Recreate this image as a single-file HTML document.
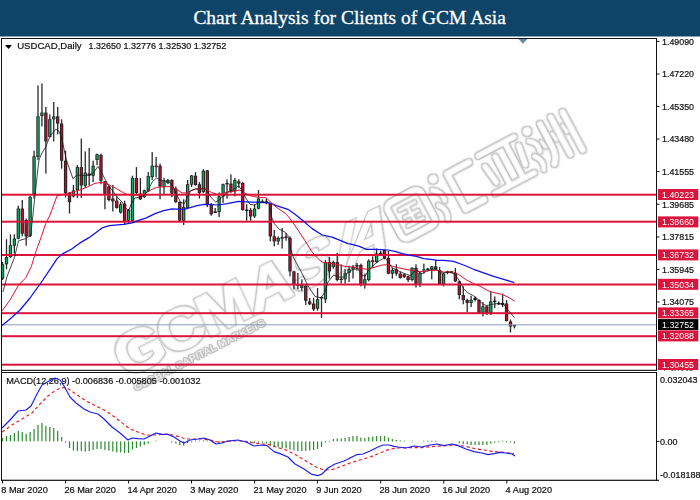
<!DOCTYPE html>
<html><head><meta charset="utf-8"><title>Chart Analysis for Clients of GCM Asia</title>
<style>html,body{margin:0;padding:0;background:#fff;overflow:hidden}body{width:700px;height:500px}svg{display:block}text{font-family:"Liberation Sans",sans-serif}.k{stroke:#111;stroke-width:.22px}.t{font-family:"Liberation Serif",serif}</style></head><body>
<svg width="700" height="500" viewBox="0 0 700 500">
<defs><filter id="ol" x="-5%" y="-5%" width="110%" height="110%" filterUnits="objectBoundingBox"><feMorphology in="SourceAlpha" operator="dilate" radius="0.9" result="d"/><feComposite in="d" in2="SourceAlpha" operator="out" result="ring"/><feGaussianBlur in="ring" stdDeviation="0.9" result="glow"/><feFlood flood-color="#bebebe"/><feComposite in2="ring" operator="in" result="cr"/><feFlood flood-color="#dedede"/><feComposite in2="glow" operator="in" result="cg"/><feMerge><feMergeNode in="cg"/><feMergeNode in="cr"/></feMerge></filter></defs>
<rect x="0" y="0" width="700" height="500" fill="#fff"/>
<rect x="0" y="0" width="700" height="36.5" fill="#0e4467"/>
<text class="t" x="193.4" y="24.4" font-size="19.3" fill="#fff" stroke="#fff" stroke-width="0.3" textLength="312.5" lengthAdjust="spacingAndGlyphs">Chart Analysis for Clients of GCM Asia</text>
<g id="wm">
<g transform="translate(129.4,376.9) rotate(-26.5)">
<text transform="translate(-4.1,0) skewX(0.0) scale(1.06,0.95)" x="0" y="0" font-size="61.0" font-weight="bold" stroke="#000" stroke-width="1.6" filter="url(#ol)">G</text>
<text transform="translate(43.4,0) skewX(0.0) scale(1.06,0.95)" x="0" y="0" font-size="61.0" font-weight="bold" stroke="#000" stroke-width="1.6" filter="url(#ol)">C</text>
<text transform="translate(87.3,0) skewX(-2.0) scale(1.06,0.95)" x="0" y="0" font-size="61.0" font-weight="bold" stroke="#000" stroke-width="1.6" filter="url(#ol)">M</text>
<text transform="translate(138.3,0) skewX(-15.0) scale(1.06,0.95)" x="0" y="0" font-size="61.0" font-weight="bold" stroke="#000" stroke-width="1.6" filter="url(#ol)">A</text>
<text transform="translate(182.4,0) skewX(-27.0) scale(1.06,0.95)" x="0" y="0" font-size="61.0" font-weight="bold" stroke="#000" stroke-width="1.6" filter="url(#ol)">S</text>
<text transform="translate(226.8,0) skewX(-38.0) scale(1.06,0.95)" x="0" y="0" font-size="61.0" font-weight="bold" stroke="#000" stroke-width="1.6" filter="url(#ol)">I</text>
<text transform="translate(240.0,0) skewX(-36.0) scale(1.06,0.95)" x="0" y="0" font-size="61.0" font-weight="bold" stroke="#000" stroke-width="1.6" filter="url(#ol)">A</text>
</g>
<g filter="url(#ol)">
<g transform="translate(136,391) rotate(-27)">
<text x="0" y="0" font-size="10" font-weight="bold" textLength="146" lengthAdjust="spacingAndGlyphs">GLOBAL CAPITAL MARKETS</text>
</g>
<g transform="translate(381,204) rotate(-28)" fill="#000" stroke="none">
<rect x="3.2" y="3.2" width="37.6" height="40" rx="6" fill="none" stroke="#000" stroke-width="6.4"/>
<rect x="12" y="12.5" width="20" height="3.2"/><rect x="13" y="21.5" width="18" height="3.2"/><rect x="12" y="30.5" width="20" height="3.2"/><rect x="20.4" y="13" width="3.2" height="20"/><rect x="26.5" y="26" width="4" height="3"/>
<circle cx="57.6" cy="2.5" r="4.6"/>
<path d="M52,12 Q60,18 58,27" fill="none" stroke="#000" stroke-width="5" stroke-linecap="round"/>
<path d="M50,28 Q57,36 52,45" fill="none" stroke="#000" stroke-width="5" stroke-linecap="round"/>
<path d="M97,4.5 L72.5,4.5 L72.5,44.5 L93,44.5" fill="none" stroke="#000" stroke-width="6.6" stroke-linecap="round" stroke-linejoin="round"/>
<path d="M108.5,3.2 L149,3.2 M105.5,44.3 L150,44.3 M123,12 L123,41 M138,5 L138,42 M109.5,16 L112,35 M149,13 L146,33" fill="none" stroke="#000" stroke-width="5.8" stroke-linecap="round"/>
<circle cx="163" cy="4.5" r="4.6"/>
<path d="M160,14 Q168,20 165,28 M158,30 Q165,38 160,46" fill="none" stroke="#000" stroke-width="5" stroke-linecap="round"/>
<path d="M178,4 L178,30 Q178,40 172,46 M190.5,3 L190.5,45 M203.5,4 L203.5,47" fill="none" stroke="#000" stroke-width="6.2" stroke-linecap="round"/>
<path d="M184,18 L185,26 M197,16 L198,24 M171,20 L172,27" fill="none" stroke="#000" stroke-width="3.5" stroke-linecap="round"/>
</g>
</g>
<rect x="1.91" y="262.0" width="1.3" height="18.0" fill="#2a2a2a"/>
<rect x="0.91" y="264.3" width="3.3" height="14.3" fill="#1c1c1c"/>
<rect x="1.81" y="265.0" width="1.5" height="12.9" fill="#0cab60"/>
<rect x="5.85" y="239.3" width="1.3" height="30.0" fill="#2a2a2a"/>
<rect x="4.85" y="257.1" width="3.3" height="7.2" fill="#1c1c1c"/>
<rect x="5.75" y="257.8" width="1.5" height="5.8" fill="#0cab60"/>
<rect x="9.79" y="234.3" width="1.3" height="23.6" fill="#2a2a2a"/>
<rect x="8.79" y="245.3" width="3.3" height="11.8" fill="#1c1c1c"/>
<rect x="9.69" y="246.0" width="1.5" height="10.4" fill="#0cab60"/>
<rect x="13.72" y="234.3" width="1.3" height="19.3" fill="#2a2a2a"/>
<rect x="12.72" y="238.6" width="3.3" height="7.1" fill="#1c1c1c"/>
<rect x="13.62" y="239.3" width="1.5" height="5.7" fill="#0cab60"/>
<rect x="17.66" y="205.7" width="1.3" height="33.6" fill="#2a2a2a"/>
<rect x="16.66" y="208.6" width="3.3" height="30.0" fill="#1c1c1c"/>
<rect x="17.56" y="209.3" width="1.5" height="28.6" fill="#0cab60"/>
<rect x="21.60" y="200.0" width="1.3" height="36.4" fill="#2a2a2a"/>
<rect x="20.60" y="208.6" width="3.3" height="25.0" fill="#1c1c1c"/>
<rect x="21.50" y="209.3" width="1.5" height="23.6" fill="#b8102f"/>
<rect x="25.54" y="218.6" width="1.3" height="27.1" fill="#2a2a2a"/>
<rect x="24.54" y="220.0" width="3.3" height="16.4" fill="#1c1c1c"/>
<rect x="25.43" y="220.7" width="1.5" height="15.0" fill="#b8102f"/>
<rect x="29.47" y="195.7" width="1.3" height="41.3" fill="#2a2a2a"/>
<rect x="28.47" y="196.9" width="3.3" height="39.2" fill="#1c1c1c"/>
<rect x="29.37" y="197.6" width="1.5" height="37.8" fill="#0cab60"/>
<rect x="33.41" y="150.7" width="1.3" height="47.9" fill="#2a2a2a"/>
<rect x="32.41" y="156.4" width="3.3" height="37.9" fill="#1c1c1c"/>
<rect x="33.31" y="157.1" width="1.5" height="36.5" fill="#0cab60"/>
<rect x="37.35" y="85.5" width="1.3" height="74.5" fill="#2a2a2a"/>
<rect x="36.35" y="116.4" width="3.3" height="40.6" fill="#1c1c1c"/>
<rect x="37.25" y="117.1" width="1.5" height="39.2" fill="#0cab60"/>
<rect x="41.29" y="83.5" width="1.3" height="42.9" fill="#2a2a2a"/>
<rect x="40.29" y="112.6" width="3.3" height="3.4" fill="#1c1c1c"/>
<rect x="41.19" y="113.3" width="1.5" height="2.0" fill="#0cab60"/>
<rect x="45.22" y="107.0" width="1.3" height="66.6" fill="#2a2a2a"/>
<rect x="44.22" y="112.6" width="3.3" height="28.8" fill="#1c1c1c"/>
<rect x="45.12" y="113.3" width="1.5" height="27.4" fill="#b8102f"/>
<rect x="49.16" y="114.3" width="1.3" height="23.1" fill="#2a2a2a"/>
<rect x="48.16" y="119.3" width="3.3" height="17.6" fill="#1c1c1c"/>
<rect x="49.06" y="120.0" width="1.5" height="16.2" fill="#0cab60"/>
<rect x="53.10" y="102.0" width="1.3" height="39.4" fill="#2a2a2a"/>
<rect x="52.10" y="116.4" width="3.3" height="2.9" fill="#1c1c1c"/>
<rect x="53.00" y="117.1" width="1.5" height="1.5" fill="#0cab60"/>
<rect x="57.04" y="107.0" width="1.3" height="27.3" fill="#2a2a2a"/>
<rect x="56.04" y="116.4" width="3.3" height="7.2" fill="#1c1c1c"/>
<rect x="56.94" y="117.1" width="1.5" height="5.8" fill="#b8102f"/>
<rect x="60.97" y="119.3" width="1.3" height="49.3" fill="#2a2a2a"/>
<rect x="59.97" y="123.6" width="3.3" height="37.1" fill="#1c1c1c"/>
<rect x="60.87" y="124.3" width="1.5" height="35.7" fill="#b8102f"/>
<rect x="64.91" y="150.7" width="1.3" height="46.7" fill="#2a2a2a"/>
<rect x="63.91" y="160.7" width="3.3" height="32.2" fill="#1c1c1c"/>
<rect x="64.81" y="161.4" width="1.5" height="30.8" fill="#b8102f"/>
<rect x="68.85" y="192.0" width="1.3" height="21.6" fill="#2a2a2a"/>
<rect x="67.85" y="193.1" width="3.3" height="9.0" fill="#1c1c1c"/>
<rect x="68.75" y="193.8" width="1.5" height="7.6" fill="#b8102f"/>
<rect x="72.78" y="185.0" width="1.3" height="12.4" fill="#2a2a2a"/>
<rect x="71.78" y="190.4" width="3.3" height="6.0" fill="#1c1c1c"/>
<rect x="72.69" y="191.1" width="1.5" height="4.6" fill="#0cab60"/>
<rect x="76.72" y="165.0" width="1.3" height="32.9" fill="#2a2a2a"/>
<rect x="75.72" y="167.1" width="3.3" height="22.9" fill="#1c1c1c"/>
<rect x="76.62" y="167.8" width="1.5" height="21.5" fill="#0cab60"/>
<rect x="80.66" y="138.6" width="1.3" height="59.3" fill="#2a2a2a"/>
<rect x="79.66" y="167.1" width="3.3" height="18.3" fill="#1c1c1c"/>
<rect x="80.56" y="167.8" width="1.5" height="16.9" fill="#b8102f"/>
<rect x="84.60" y="151.4" width="1.3" height="36.5" fill="#2a2a2a"/>
<rect x="83.60" y="172.6" width="3.3" height="13.1" fill="#1c1c1c"/>
<rect x="84.50" y="173.3" width="1.5" height="11.7" fill="#0cab60"/>
<rect x="88.53" y="147.9" width="1.3" height="37.8" fill="#2a2a2a"/>
<rect x="87.53" y="173.6" width="3.3" height="2.1" fill="#1c1c1c"/>
<rect x="88.44" y="174.3" width="1.5" height="0.7" fill="#b8102f"/>
<rect x="92.47" y="160.7" width="1.3" height="21.4" fill="#2a2a2a"/>
<rect x="91.47" y="165.7" width="3.3" height="10.0" fill="#1c1c1c"/>
<rect x="92.37" y="166.4" width="1.5" height="8.6" fill="#0cab60"/>
<rect x="96.41" y="153.6" width="1.3" height="11.4" fill="#2a2a2a"/>
<rect x="95.41" y="154.3" width="3.3" height="5.7" fill="#1c1c1c"/>
<rect x="96.31" y="155.0" width="1.5" height="4.3" fill="#0cab60"/>
<rect x="100.35" y="153.6" width="1.3" height="30.7" fill="#2a2a2a"/>
<rect x="99.35" y="155.0" width="3.3" height="25.7" fill="#1c1c1c"/>
<rect x="100.25" y="155.7" width="1.5" height="24.3" fill="#b8102f"/>
<rect x="104.28" y="181.0" width="1.3" height="28.3" fill="#2a2a2a"/>
<rect x="103.28" y="181.4" width="3.3" height="12.9" fill="#1c1c1c"/>
<rect x="104.19" y="182.1" width="1.5" height="11.5" fill="#b8102f"/>
<rect x="108.22" y="185.7" width="1.3" height="15.7" fill="#2a2a2a"/>
<rect x="107.22" y="186.4" width="3.3" height="13.6" fill="#1c1c1c"/>
<rect x="108.12" y="187.1" width="1.5" height="12.2" fill="#b8102f"/>
<rect x="112.16" y="185.0" width="1.3" height="26.4" fill="#2a2a2a"/>
<rect x="111.16" y="198.6" width="3.3" height="2.8" fill="#1c1c1c"/>
<rect x="112.06" y="199.3" width="1.5" height="1.4" fill="#b8102f"/>
<rect x="116.10" y="196.4" width="1.3" height="12.2" fill="#2a2a2a"/>
<rect x="115.10" y="200.7" width="3.3" height="7.2" fill="#1c1c1c"/>
<rect x="116.00" y="201.4" width="1.5" height="5.8" fill="#b8102f"/>
<rect x="120.03" y="202.1" width="1.3" height="11.5" fill="#2a2a2a"/>
<rect x="119.03" y="204.3" width="3.3" height="8.2" fill="#1c1c1c"/>
<rect x="119.94" y="205.0" width="1.5" height="6.8" fill="#0cab60"/>
<rect x="123.97" y="200.7" width="1.3" height="24.3" fill="#2a2a2a"/>
<rect x="122.97" y="203.6" width="3.3" height="17.8" fill="#1c1c1c"/>
<rect x="123.87" y="204.3" width="1.5" height="16.4" fill="#b8102f"/>
<rect x="127.91" y="209.0" width="1.3" height="13.9" fill="#2a2a2a"/>
<rect x="126.91" y="210.0" width="3.3" height="10.7" fill="#1c1c1c"/>
<rect x="127.81" y="210.7" width="1.5" height="9.3" fill="#0cab60"/>
<rect x="131.85" y="175.7" width="1.3" height="46.3" fill="#2a2a2a"/>
<rect x="130.85" y="177.9" width="3.3" height="42.8" fill="#1c1c1c"/>
<rect x="131.75" y="178.6" width="1.5" height="41.4" fill="#0cab60"/>
<rect x="135.78" y="167.1" width="1.3" height="27.2" fill="#2a2a2a"/>
<rect x="134.78" y="178.1" width="3.3" height="14.8" fill="#1c1c1c"/>
<rect x="135.69" y="178.8" width="1.5" height="13.4" fill="#b8102f"/>
<rect x="139.72" y="177.9" width="1.3" height="22.1" fill="#2a2a2a"/>
<rect x="138.72" y="193.6" width="3.3" height="5.7" fill="#1c1c1c"/>
<rect x="139.62" y="194.3" width="1.5" height="4.3" fill="#b8102f"/>
<rect x="143.66" y="189.6" width="1.3" height="8.3" fill="#2a2a2a"/>
<rect x="142.66" y="190.4" width="3.3" height="6.7" fill="#1c1c1c"/>
<rect x="143.56" y="191.1" width="1.5" height="5.3" fill="#0cab60"/>
<rect x="147.60" y="172.1" width="1.3" height="20.0" fill="#2a2a2a"/>
<rect x="146.60" y="176.1" width="3.3" height="15.3" fill="#1c1c1c"/>
<rect x="147.50" y="176.8" width="1.5" height="13.9" fill="#0cab60"/>
<rect x="151.53" y="152.1" width="1.3" height="27.9" fill="#2a2a2a"/>
<rect x="150.53" y="165.7" width="3.3" height="11.4" fill="#1c1c1c"/>
<rect x="151.44" y="166.4" width="1.5" height="10.0" fill="#0cab60"/>
<rect x="155.47" y="157.1" width="1.3" height="20.0" fill="#2a2a2a"/>
<rect x="154.47" y="165.7" width="3.3" height="1.4" fill="#1c1c1c"/>
<rect x="155.27" y="166.0" width="1.7" height="0.8" fill="#b8102f"/>
<rect x="159.41" y="163.6" width="1.3" height="35.7" fill="#2a2a2a"/>
<rect x="158.41" y="165.7" width="3.3" height="20.7" fill="#1c1c1c"/>
<rect x="159.31" y="166.4" width="1.5" height="19.3" fill="#b8102f"/>
<rect x="163.35" y="177.9" width="1.3" height="16.4" fill="#2a2a2a"/>
<rect x="162.35" y="180.7" width="3.3" height="6.4" fill="#1c1c1c"/>
<rect x="163.25" y="181.4" width="1.5" height="5.0" fill="#0cab60"/>
<rect x="167.28" y="179.0" width="1.3" height="5.0" fill="#2a2a2a"/>
<rect x="166.28" y="180.0" width="3.3" height="2.9" fill="#1c1c1c"/>
<rect x="167.19" y="180.7" width="1.5" height="1.5" fill="#0cab60"/>
<rect x="171.22" y="179.3" width="1.3" height="17.8" fill="#2a2a2a"/>
<rect x="170.22" y="180.0" width="3.3" height="13.6" fill="#1c1c1c"/>
<rect x="171.12" y="180.7" width="1.5" height="12.2" fill="#b8102f"/>
<rect x="175.16" y="186.4" width="1.3" height="16.5" fill="#2a2a2a"/>
<rect x="174.16" y="188.6" width="3.3" height="13.5" fill="#1c1c1c"/>
<rect x="175.06" y="189.3" width="1.5" height="12.1" fill="#b8102f"/>
<rect x="179.10" y="201.4" width="1.3" height="20.1" fill="#2a2a2a"/>
<rect x="178.10" y="202.1" width="3.3" height="18.6" fill="#1c1c1c"/>
<rect x="179.00" y="202.8" width="1.5" height="17.2" fill="#b8102f"/>
<rect x="183.03" y="199.3" width="1.3" height="25.7" fill="#2a2a2a"/>
<rect x="182.03" y="207.1" width="3.3" height="13.6" fill="#1c1c1c"/>
<rect x="182.94" y="207.8" width="1.5" height="12.2" fill="#0cab60"/>
<rect x="186.97" y="180.0" width="1.3" height="28.6" fill="#2a2a2a"/>
<rect x="185.97" y="184.3" width="3.3" height="23.6" fill="#1c1c1c"/>
<rect x="186.87" y="185.0" width="1.5" height="22.2" fill="#0cab60"/>
<rect x="190.91" y="175.0" width="1.3" height="12.1" fill="#2a2a2a"/>
<rect x="189.91" y="175.5" width="3.3" height="9.1" fill="#1c1c1c"/>
<rect x="190.81" y="176.2" width="1.5" height="7.7" fill="#0cab60"/>
<rect x="194.85" y="172.1" width="1.3" height="13.6" fill="#2a2a2a"/>
<rect x="193.85" y="175.7" width="3.3" height="9.3" fill="#1c1c1c"/>
<rect x="194.75" y="176.4" width="1.5" height="7.9" fill="#b8102f"/>
<rect x="198.78" y="182.1" width="1.3" height="16.5" fill="#2a2a2a"/>
<rect x="197.78" y="184.3" width="3.3" height="8.6" fill="#1c1c1c"/>
<rect x="198.69" y="185.0" width="1.5" height="7.2" fill="#b8102f"/>
<rect x="202.72" y="169.3" width="1.3" height="23.6" fill="#2a2a2a"/>
<rect x="201.72" y="170.7" width="3.3" height="21.4" fill="#1c1c1c"/>
<rect x="202.62" y="171.4" width="1.5" height="20.0" fill="#0cab60"/>
<rect x="206.66" y="170.0" width="1.3" height="37.1" fill="#2a2a2a"/>
<rect x="205.66" y="170.4" width="3.3" height="33.9" fill="#1c1c1c"/>
<rect x="206.56" y="171.1" width="1.5" height="32.5" fill="#b8102f"/>
<rect x="210.60" y="202.9" width="1.3" height="12.8" fill="#2a2a2a"/>
<rect x="209.60" y="204.3" width="3.3" height="10.0" fill="#1c1c1c"/>
<rect x="210.50" y="205.0" width="1.5" height="8.6" fill="#b8102f"/>
<rect x="214.53" y="207.9" width="1.3" height="5.1" fill="#2a2a2a"/>
<rect x="213.53" y="211.4" width="3.3" height="1.6" fill="#1c1c1c"/>
<rect x="218.47" y="192.4" width="1.3" height="24.7" fill="#2a2a2a"/>
<rect x="217.47" y="196.4" width="3.3" height="15.7" fill="#1c1c1c"/>
<rect x="218.37" y="197.1" width="1.5" height="14.3" fill="#0cab60"/>
<rect x="222.41" y="183.6" width="1.3" height="19.3" fill="#2a2a2a"/>
<rect x="221.41" y="184.3" width="3.3" height="12.1" fill="#1c1c1c"/>
<rect x="222.31" y="185.0" width="1.5" height="10.7" fill="#0cab60"/>
<rect x="226.35" y="179.3" width="1.3" height="19.3" fill="#2a2a2a"/>
<rect x="225.35" y="183.0" width="3.3" height="1.4" fill="#1c1c1c"/>
<rect x="230.28" y="174.3" width="1.3" height="18.6" fill="#2a2a2a"/>
<rect x="229.28" y="183.6" width="3.3" height="7.8" fill="#1c1c1c"/>
<rect x="230.19" y="184.3" width="1.5" height="6.4" fill="#b8102f"/>
<rect x="234.22" y="177.9" width="1.3" height="18.5" fill="#2a2a2a"/>
<rect x="233.22" y="180.0" width="3.3" height="11.4" fill="#1c1c1c"/>
<rect x="234.12" y="180.7" width="1.5" height="10.0" fill="#0cab60"/>
<rect x="238.16" y="179.3" width="1.3" height="8.6" fill="#2a2a2a"/>
<rect x="237.16" y="181.4" width="3.3" height="2.2" fill="#1c1c1c"/>
<rect x="238.06" y="182.1" width="1.5" height="0.8" fill="#b8102f"/>
<rect x="242.10" y="182.1" width="1.3" height="28.6" fill="#2a2a2a"/>
<rect x="241.10" y="182.9" width="3.3" height="27.1" fill="#1c1c1c"/>
<rect x="242.00" y="183.6" width="1.5" height="25.7" fill="#b8102f"/>
<rect x="246.03" y="204.3" width="1.3" height="16.4" fill="#2a2a2a"/>
<rect x="245.03" y="209.6" width="3.3" height="1.4" fill="#1c1c1c"/>
<rect x="249.97" y="207.9" width="1.3" height="12.8" fill="#2a2a2a"/>
<rect x="248.97" y="210.0" width="3.3" height="6.4" fill="#1c1c1c"/>
<rect x="249.87" y="210.7" width="1.5" height="5.0" fill="#b8102f"/>
<rect x="253.91" y="204.3" width="1.3" height="13.6" fill="#2a2a2a"/>
<rect x="252.91" y="208.6" width="3.3" height="7.8" fill="#1c1c1c"/>
<rect x="253.81" y="209.3" width="1.5" height="6.4" fill="#0cab60"/>
<rect x="257.85" y="190.0" width="1.3" height="19.3" fill="#2a2a2a"/>
<rect x="256.85" y="198.6" width="3.3" height="10.0" fill="#1c1c1c"/>
<rect x="257.75" y="199.3" width="1.5" height="8.6" fill="#0cab60"/>
<rect x="261.79" y="199.3" width="1.3" height="3.7" fill="#2a2a2a"/>
<rect x="260.79" y="201.4" width="3.3" height="1.4" fill="#1c1c1c"/>
<rect x="265.72" y="198.6" width="1.3" height="5.7" fill="#2a2a2a"/>
<rect x="264.72" y="201.4" width="3.3" height="1.5" fill="#1c1c1c"/>
<rect x="269.66" y="203.0" width="1.3" height="38.4" fill="#2a2a2a"/>
<rect x="268.66" y="203.6" width="3.3" height="32.8" fill="#1c1c1c"/>
<rect x="269.56" y="204.3" width="1.5" height="31.4" fill="#b8102f"/>
<rect x="273.60" y="230.0" width="1.3" height="16.4" fill="#2a2a2a"/>
<rect x="272.60" y="236.4" width="3.3" height="5.0" fill="#1c1c1c"/>
<rect x="273.50" y="237.1" width="1.5" height="3.6" fill="#b8102f"/>
<rect x="277.54" y="236.4" width="1.3" height="8.6" fill="#2a2a2a"/>
<rect x="276.54" y="237.9" width="3.3" height="3.5" fill="#1c1c1c"/>
<rect x="277.44" y="238.6" width="1.5" height="2.1" fill="#0cab60"/>
<rect x="281.47" y="227.9" width="1.3" height="20.7" fill="#2a2a2a"/>
<rect x="280.47" y="237.1" width="3.3" height="1.4" fill="#1c1c1c"/>
<rect x="285.41" y="232.9" width="1.3" height="7.8" fill="#2a2a2a"/>
<rect x="284.41" y="236.4" width="3.3" height="1.5" fill="#1c1c1c"/>
<rect x="289.35" y="236.4" width="1.3" height="40.0" fill="#2a2a2a"/>
<rect x="288.35" y="237.9" width="3.3" height="33.5" fill="#1c1c1c"/>
<rect x="289.25" y="238.6" width="1.5" height="32.1" fill="#b8102f"/>
<rect x="293.29" y="270.7" width="1.3" height="18.6" fill="#2a2a2a"/>
<rect x="292.29" y="271.4" width="3.3" height="13.6" fill="#1c1c1c"/>
<rect x="293.19" y="272.1" width="1.5" height="12.2" fill="#b8102f"/>
<rect x="297.22" y="272.9" width="1.3" height="16.4" fill="#2a2a2a"/>
<rect x="296.22" y="284.3" width="3.3" height="1.4" fill="#1c1c1c"/>
<rect x="301.16" y="279.3" width="1.3" height="11.4" fill="#2a2a2a"/>
<rect x="300.16" y="285.0" width="3.3" height="2.9" fill="#1c1c1c"/>
<rect x="301.06" y="285.7" width="1.5" height="1.5" fill="#0cab60"/>
<rect x="305.10" y="285.0" width="1.3" height="20.0" fill="#2a2a2a"/>
<rect x="304.10" y="285.7" width="3.3" height="15.0" fill="#1c1c1c"/>
<rect x="305.00" y="286.4" width="1.5" height="13.6" fill="#b8102f"/>
<rect x="309.04" y="297.9" width="1.3" height="7.1" fill="#2a2a2a"/>
<rect x="308.04" y="301.4" width="3.3" height="2.9" fill="#1c1c1c"/>
<rect x="308.94" y="302.1" width="1.5" height="1.5" fill="#b8102f"/>
<rect x="312.97" y="297.9" width="1.3" height="13.1" fill="#2a2a2a"/>
<rect x="311.97" y="303.6" width="3.3" height="5.7" fill="#1c1c1c"/>
<rect x="312.87" y="304.3" width="1.5" height="4.3" fill="#b8102f"/>
<rect x="316.91" y="288.1" width="1.3" height="22.6" fill="#2a2a2a"/>
<rect x="315.91" y="299.3" width="3.3" height="9.3" fill="#1c1c1c"/>
<rect x="316.81" y="300.0" width="1.5" height="7.9" fill="#0cab60"/>
<rect x="320.85" y="296.4" width="1.3" height="21.5" fill="#2a2a2a"/>
<rect x="319.85" y="297.0" width="3.3" height="1.4" fill="#1c1c1c"/>
<rect x="324.79" y="260.0" width="1.3" height="42.9" fill="#2a2a2a"/>
<rect x="323.79" y="262.1" width="3.3" height="37.2" fill="#1c1c1c"/>
<rect x="324.69" y="262.8" width="1.5" height="35.8" fill="#0cab60"/>
<rect x="328.72" y="257.1" width="1.3" height="21.5" fill="#2a2a2a"/>
<rect x="327.72" y="262.1" width="3.3" height="9.3" fill="#1c1c1c"/>
<rect x="328.62" y="262.8" width="1.5" height="7.9" fill="#b8102f"/>
<rect x="332.66" y="260.7" width="1.3" height="7.9" fill="#2a2a2a"/>
<rect x="331.66" y="262.1" width="3.3" height="5.0" fill="#1c1c1c"/>
<rect x="332.56" y="262.8" width="1.5" height="3.6" fill="#0cab60"/>
<rect x="336.60" y="252.9" width="1.3" height="28.5" fill="#2a2a2a"/>
<rect x="335.60" y="262.1" width="3.3" height="17.9" fill="#1c1c1c"/>
<rect x="336.50" y="262.8" width="1.5" height="16.5" fill="#b8102f"/>
<rect x="340.54" y="264.3" width="1.3" height="19.3" fill="#2a2a2a"/>
<rect x="339.54" y="278.6" width="3.3" height="1.4" fill="#1c1c1c"/>
<rect x="344.47" y="269.3" width="1.3" height="14.3" fill="#2a2a2a"/>
<rect x="343.47" y="272.9" width="3.3" height="6.4" fill="#1c1c1c"/>
<rect x="344.37" y="273.6" width="1.5" height="5.0" fill="#0cab60"/>
<rect x="348.41" y="265.7" width="1.3" height="16.4" fill="#2a2a2a"/>
<rect x="347.41" y="269.3" width="3.3" height="3.6" fill="#1c1c1c"/>
<rect x="348.31" y="270.0" width="1.5" height="2.2" fill="#0cab60"/>
<rect x="352.35" y="265.0" width="1.3" height="13.6" fill="#2a2a2a"/>
<rect x="351.35" y="267.1" width="3.3" height="2.2" fill="#1c1c1c"/>
<rect x="352.25" y="267.8" width="1.5" height="0.8" fill="#0cab60"/>
<rect x="356.29" y="262.9" width="1.3" height="7.8" fill="#2a2a2a"/>
<rect x="355.29" y="265.0" width="3.3" height="1.4" fill="#1c1c1c"/>
<rect x="360.22" y="263.6" width="1.3" height="22.8" fill="#2a2a2a"/>
<rect x="359.22" y="265.0" width="3.3" height="20.0" fill="#1c1c1c"/>
<rect x="360.12" y="265.7" width="1.5" height="18.6" fill="#b8102f"/>
<rect x="364.16" y="273.6" width="1.3" height="15.0" fill="#2a2a2a"/>
<rect x="363.16" y="279.3" width="3.3" height="5.7" fill="#1c1c1c"/>
<rect x="364.06" y="280.0" width="1.5" height="4.3" fill="#0cab60"/>
<rect x="368.10" y="259.3" width="1.3" height="22.1" fill="#2a2a2a"/>
<rect x="367.10" y="260.7" width="3.3" height="19.3" fill="#1c1c1c"/>
<rect x="368.00" y="261.4" width="1.5" height="17.9" fill="#0cab60"/>
<rect x="372.04" y="256.4" width="1.3" height="11.5" fill="#2a2a2a"/>
<rect x="371.04" y="260.4" width="3.3" height="1.7" fill="#1c1c1c"/>
<rect x="371.83" y="260.7" width="1.7" height="1.1" fill="#b8102f"/>
<rect x="375.97" y="248.6" width="1.3" height="14.3" fill="#2a2a2a"/>
<rect x="374.97" y="253.6" width="3.3" height="8.5" fill="#1c1c1c"/>
<rect x="375.87" y="254.3" width="1.5" height="7.1" fill="#0cab60"/>
<rect x="379.91" y="250.7" width="1.3" height="4.3" fill="#2a2a2a"/>
<rect x="378.91" y="252.9" width="3.3" height="1.4" fill="#1c1c1c"/>
<rect x="383.85" y="249.3" width="1.3" height="10.0" fill="#2a2a2a"/>
<rect x="382.85" y="250.0" width="3.3" height="7.9" fill="#1c1c1c"/>
<rect x="383.75" y="250.7" width="1.5" height="6.5" fill="#b8102f"/>
<rect x="387.79" y="250.7" width="1.3" height="23.6" fill="#2a2a2a"/>
<rect x="386.79" y="257.9" width="3.3" height="15.7" fill="#1c1c1c"/>
<rect x="387.69" y="258.6" width="1.5" height="14.3" fill="#b8102f"/>
<rect x="391.72" y="267.9" width="1.3" height="10.7" fill="#2a2a2a"/>
<rect x="390.72" y="270.0" width="3.3" height="3.6" fill="#1c1c1c"/>
<rect x="391.62" y="270.7" width="1.5" height="2.2" fill="#0cab60"/>
<rect x="395.66" y="264.3" width="1.3" height="11.4" fill="#2a2a2a"/>
<rect x="394.66" y="269.3" width="3.3" height="4.3" fill="#1c1c1c"/>
<rect x="395.56" y="270.0" width="1.5" height="2.9" fill="#b8102f"/>
<rect x="399.60" y="271.4" width="1.3" height="7.2" fill="#2a2a2a"/>
<rect x="398.60" y="273.6" width="3.3" height="4.3" fill="#1c1c1c"/>
<rect x="399.50" y="274.3" width="1.5" height="2.9" fill="#b8102f"/>
<rect x="403.54" y="273.6" width="1.3" height="4.3" fill="#2a2a2a"/>
<rect x="402.54" y="274.3" width="3.3" height="2.8" fill="#1c1c1c"/>
<rect x="403.44" y="275.0" width="1.5" height="1.4" fill="#b8102f"/>
<rect x="407.47" y="275.7" width="1.3" height="6.4" fill="#2a2a2a"/>
<rect x="406.47" y="276.4" width="3.3" height="3.6" fill="#1c1c1c"/>
<rect x="407.37" y="277.1" width="1.5" height="2.2" fill="#b8102f"/>
<rect x="411.41" y="267.1" width="1.3" height="14.3" fill="#2a2a2a"/>
<rect x="410.41" y="267.9" width="3.3" height="12.1" fill="#1c1c1c"/>
<rect x="411.31" y="268.6" width="1.5" height="10.7" fill="#0cab60"/>
<rect x="415.35" y="264.3" width="1.3" height="23.3" fill="#2a2a2a"/>
<rect x="414.35" y="267.9" width="3.3" height="16.4" fill="#1c1c1c"/>
<rect x="415.25" y="268.6" width="1.5" height="15.0" fill="#b8102f"/>
<rect x="419.29" y="272.1" width="1.3" height="15.0" fill="#2a2a2a"/>
<rect x="418.29" y="272.9" width="3.3" height="10.7" fill="#1c1c1c"/>
<rect x="419.19" y="273.6" width="1.5" height="9.3" fill="#0cab60"/>
<rect x="423.22" y="263.6" width="1.3" height="10.0" fill="#2a2a2a"/>
<rect x="422.22" y="269.3" width="3.3" height="1.4" fill="#1c1c1c"/>
<rect x="423.02" y="269.6" width="1.7" height="0.8" fill="#0cab60"/>
<rect x="427.16" y="267.9" width="1.3" height="2.1" fill="#2a2a2a"/>
<rect x="426.16" y="268.6" width="3.3" height="1.4" fill="#1c1c1c"/>
<rect x="431.10" y="266.0" width="1.3" height="13.3" fill="#2a2a2a"/>
<rect x="430.10" y="266.4" width="3.3" height="2.9" fill="#1c1c1c"/>
<rect x="431.00" y="267.1" width="1.5" height="1.5" fill="#0cab60"/>
<rect x="435.04" y="260.0" width="1.3" height="9.5" fill="#2a2a2a"/>
<rect x="434.04" y="266.4" width="3.3" height="2.6" fill="#1c1c1c"/>
<rect x="434.94" y="267.1" width="1.5" height="1.2" fill="#b8102f"/>
<rect x="438.97" y="267.1" width="1.3" height="17.9" fill="#2a2a2a"/>
<rect x="437.97" y="270.0" width="3.3" height="14.3" fill="#1c1c1c"/>
<rect x="438.87" y="270.7" width="1.5" height="12.9" fill="#b8102f"/>
<rect x="442.91" y="273.0" width="1.3" height="13.4" fill="#2a2a2a"/>
<rect x="441.91" y="273.6" width="3.3" height="10.7" fill="#1c1c1c"/>
<rect x="442.81" y="274.3" width="1.5" height="9.3" fill="#0cab60"/>
<rect x="446.85" y="270.7" width="1.3" height="3.6" fill="#2a2a2a"/>
<rect x="445.85" y="271.4" width="3.3" height="1.5" fill="#1c1c1c"/>
<rect x="450.79" y="271.0" width="1.3" height="2.0" fill="#2a2a2a"/>
<rect x="449.79" y="271.4" width="3.3" height="1.4" fill="#1c1c1c"/>
<rect x="454.72" y="267.9" width="1.3" height="14.2" fill="#2a2a2a"/>
<rect x="453.72" y="272.9" width="3.3" height="8.5" fill="#1c1c1c"/>
<rect x="454.62" y="273.6" width="1.5" height="7.1" fill="#b8102f"/>
<rect x="458.66" y="280.7" width="1.3" height="18.6" fill="#2a2a2a"/>
<rect x="457.66" y="281.4" width="3.3" height="13.6" fill="#1c1c1c"/>
<rect x="458.56" y="282.1" width="1.5" height="12.2" fill="#b8102f"/>
<rect x="462.60" y="286.4" width="1.3" height="17.9" fill="#2a2a2a"/>
<rect x="461.60" y="295.0" width="3.3" height="5.0" fill="#1c1c1c"/>
<rect x="462.50" y="295.7" width="1.5" height="3.6" fill="#b8102f"/>
<rect x="466.54" y="298.6" width="1.3" height="13.5" fill="#2a2a2a"/>
<rect x="465.54" y="300.0" width="3.3" height="2.9" fill="#1c1c1c"/>
<rect x="466.44" y="300.7" width="1.5" height="1.5" fill="#b8102f"/>
<rect x="470.47" y="295.7" width="1.3" height="11.4" fill="#2a2a2a"/>
<rect x="469.47" y="300.0" width="3.3" height="2.9" fill="#1c1c1c"/>
<rect x="470.37" y="300.7" width="1.5" height="1.5" fill="#0cab60"/>
<rect x="474.41" y="296.4" width="1.3" height="5.0" fill="#2a2a2a"/>
<rect x="473.41" y="297.9" width="3.3" height="2.1" fill="#1c1c1c"/>
<rect x="478.35" y="299.3" width="1.3" height="14.3" fill="#2a2a2a"/>
<rect x="477.35" y="300.0" width="3.3" height="12.9" fill="#1c1c1c"/>
<rect x="478.25" y="300.7" width="1.5" height="11.5" fill="#b8102f"/>
<rect x="482.29" y="302.1" width="1.3" height="14.3" fill="#2a2a2a"/>
<rect x="481.29" y="306.4" width="3.3" height="6.5" fill="#1c1c1c"/>
<rect x="482.19" y="307.1" width="1.5" height="5.1" fill="#0cab60"/>
<rect x="486.22" y="305.7" width="1.3" height="9.3" fill="#2a2a2a"/>
<rect x="485.22" y="306.4" width="3.3" height="6.5" fill="#1c1c1c"/>
<rect x="486.12" y="307.1" width="1.5" height="5.1" fill="#b8102f"/>
<rect x="490.16" y="292.1" width="1.3" height="22.9" fill="#2a2a2a"/>
<rect x="489.16" y="301.4" width="3.3" height="11.5" fill="#1c1c1c"/>
<rect x="490.06" y="302.1" width="1.5" height="10.1" fill="#0cab60"/>
<rect x="494.10" y="296.4" width="1.3" height="11.5" fill="#2a2a2a"/>
<rect x="493.10" y="300.7" width="3.3" height="1.4" fill="#1c1c1c"/>
<rect x="498.04" y="301.4" width="1.3" height="3.6" fill="#2a2a2a"/>
<rect x="497.04" y="302.9" width="3.3" height="1.4" fill="#1c1c1c"/>
<rect x="501.97" y="293.6" width="1.3" height="13.5" fill="#2a2a2a"/>
<rect x="500.97" y="302.9" width="3.3" height="2.1" fill="#1c1c1c"/>
<rect x="505.91" y="300.0" width="1.3" height="21.5" fill="#2a2a2a"/>
<rect x="504.91" y="303.5" width="3.3" height="17.5" fill="#1c1c1c"/>
<rect x="505.81" y="304.2" width="1.5" height="16.1" fill="#b8102f"/>
<rect x="509.85" y="319.5" width="1.3" height="13.0" fill="#2a2a2a"/>
<rect x="508.85" y="321.5" width="3.3" height="5.0" fill="#1c1c1c"/>
<rect x="509.75" y="322.2" width="1.5" height="3.6" fill="#b8102f"/>
<rect x="513.78" y="324.8" width="1.3" height="3.7" fill="#2a2a2a"/>
<rect x="512.78" y="325.0" width="3.3" height="1.4" fill="#1c1c1c"/>
<rect x="513.58" y="325.3" width="1.7" height="0.8" fill="#0cab60"/>
<rect x="2" y="193.7" width="654" height="2" fill="#dc143c"/>
<rect x="2" y="220.7" width="654" height="2" fill="#dc143c"/>
<rect x="2" y="254.0" width="654" height="2" fill="#dc143c"/>
<rect x="2" y="283.5" width="654" height="2" fill="#dc143c"/>
<rect x="2" y="312.2" width="654" height="2" fill="#dc143c"/>
<rect x="2" y="335.2" width="654" height="2" fill="#dc143c"/>
<rect x="2" y="363.7" width="654" height="2" fill="#dc143c"/>
<rect x="2" y="324.3" width="654" height="1" fill="#8a9db3"/>
<polyline points="2.0,325.6 10.0,319.0 20.0,310.0 30.0,298.0 39.3,285.0 42.9,280.0 50.0,269.3 57.1,258.6 62.9,253.6 71.4,249.3 80.0,242.9 88.6,237.9 95.0,233.3 102.1,227.9 109.3,225.7 123.6,224.3 132.1,222.9 137.9,220.7 146.4,217.9 155.0,213.6 163.6,210.7 172.1,208.9 183.6,209.3 189.3,207.9 197.1,205.7 204.3,204.3 218.6,205.0 227.1,203.6 238.6,201.4 247.1,201.9 258.6,202.4 269.3,202.9 276.4,205.7 287.9,209.3 295.0,214.3 302.1,220.0 312.1,228.6 322.1,235.0 332.1,237.1 340.7,240.7 347.9,243.6 352.1,244.3 359.3,246.4 366.4,249.3 376.4,249.3 387.9,250.0 395.0,251.4 402.1,253.6 409.0,255.2 416.4,256.4 423.6,258.6 430.7,259.3 437.9,260.4 443.6,260.3 453.6,261.4 463.6,265.0 473.6,269.3 483.6,272.9 493.6,276.4 503.6,279.3 514.3,282.6" fill="none" stroke="#1010f0" stroke-width="1.25" stroke-linejoin="round"/>
<polyline points="2.0,311.0 10.0,300.0 18.6,285.0 25.7,277.9 31.4,266.4 35.7,252.1 41.4,236.4 45.7,223.6 50.0,215.0 57.1,195.7 68.6,193.1 80.0,190.0 88.6,186.4 95.0,183.3 102.1,182.4 109.3,185.0 116.4,188.6 123.6,192.9 127.9,194.7 136.0,195.2 143.6,194.3 149.3,190.7 156.4,187.4 163.6,186.7 170.7,186.7 176.4,189.3 182.1,192.9 186.4,192.9 192.1,190.4 195.7,189.3 204.3,188.6 211.4,192.4 218.6,194.7 225.7,192.4 232.9,191.4 239.3,190.0 244.3,192.9 250.0,195.7 257.1,197.1 266.4,197.9 271.4,202.9 276.4,207.1 286.4,214.3 292.1,221.4 297.9,230.0 305.0,240.7 312.1,252.1 317.9,258.6 322.1,262.1 332.1,263.6 340.7,265.3 345.0,266.4 353.6,267.1 360.7,268.6 367.9,269.3 375.0,267.1 382.1,265.0 387.9,264.7 395.0,267.1 402.1,268.6 409.3,270.0 416.4,271.4 423.6,271.4 430.7,270.4 437.9,270.4 443.6,272.1 453.6,272.1 459.3,275.0 466.4,280.0 473.6,283.6 480.7,286.4 487.9,290.7 495.0,292.9 502.1,294.3 507.9,297.1 514.5,301.0" fill="none" stroke="#e01030" stroke-width="1" stroke-linejoin="round"/>
<polyline points="2.9,292.0 7.1,276.4 14.3,257.9 18.6,240.7 25.7,238.6 30.7,235.0 32.9,215.0 35.0,196.0 37.5,172.0 39.0,160.0 41.4,154.0 45.7,147.0 50.0,136.0 55.7,129.3 58.6,130.7 61.4,137.0 66.4,160.0 72.9,178.6 77.0,175.0 85.7,175.7 92.9,173.6 97.9,166.4 101.4,172.1 105.0,179.3 109.3,186.4 113.6,192.1 117.9,197.9 122.1,202.1 125.7,207.9 128.6,210.7 132.1,202.1 135.0,197.9 140.7,197.1 145.0,195.0 149.3,187.9 152.1,182.1 156.4,177.9 160.0,180.0 163.6,180.7 167.9,181.4 172.1,185.0 176.4,194.3 180.7,202.1 184.3,203.6 187.1,197.9 190.7,190.7 195.7,188.6 200.0,189.3 204.3,187.9 207.9,192.1 211.4,197.9 215.7,202.1 219.3,200.0 222.9,196.4 227.1,192.4 232.9,190.0 238.6,185.7 242.1,190.7 245.7,197.9 250.0,204.3 255.0,205.0 258.6,202.1 267.1,202.1 269.3,203.6 271.4,216.4 274.3,223.6 279.3,229.3 285.0,232.1 288.6,236.4 290.7,249.3 293.6,257.9 300.7,270.7 307.9,285.7 315.0,296.4 320.7,297.9 325.0,292.1 327.9,282.1 333.6,275.0 337.9,277.1 343.6,277.1 349.3,271.4 353.6,269.3 357.9,268.6 361.4,275.0 365.0,276.4 368.6,270.0 373.6,265.0 379.3,260.7 385.0,257.9 387.9,261.4 392.1,267.9 399.3,271.4 406.4,274.3 410.7,275.7 413.6,272.1 416.4,270.7 422.1,273.6 426.4,271.4 432.1,269.3 437.1,269.3 440.7,272.9 443.6,272.9 449.3,272.1 455.0,274.3 459.3,280.7 463.6,288.6 467.9,292.9 473.6,295.7 477.9,299.3 482.1,303.6 486.4,305.7 492.1,304.3 497.9,303.6 503.6,304.0 507.9,310.0 514.5,317.8" fill="none" stroke="#1a1a1a" stroke-width="0.8" stroke-linejoin="round"/>
<text class="k" x="6.2" y="384.2" font-size="9.5" fill="#111" lengthAdjust="spacingAndGlyphs" textLength="194.3">MACD(12,26,9) -0.006836 -0.005805 -0.001032</text>
<rect x="1.96" y="438.0" width="1.2" height="3.4" fill="#2a8a2a"/>
<rect x="5.90" y="436.0" width="1.2" height="5.4" fill="#2a8a2a"/>
<rect x="9.84" y="435.0" width="1.2" height="6.4" fill="#2a8a2a"/>
<rect x="13.77" y="433.0" width="1.2" height="8.4" fill="#2a8a2a"/>
<rect x="17.71" y="431.0" width="1.2" height="10.4" fill="#2a8a2a"/>
<rect x="21.65" y="432.0" width="1.2" height="9.4" fill="#2a8a2a"/>
<rect x="25.58" y="434.0" width="1.2" height="7.4" fill="#2a8a2a"/>
<rect x="29.52" y="432.0" width="1.2" height="9.4" fill="#2a8a2a"/>
<rect x="33.46" y="429.0" width="1.2" height="12.4" fill="#2a8a2a"/>
<rect x="37.40" y="425.0" width="1.2" height="16.4" fill="#2a8a2a"/>
<rect x="41.34" y="423.0" width="1.2" height="18.4" fill="#2a8a2a"/>
<rect x="45.27" y="426.0" width="1.2" height="15.4" fill="#2a8a2a"/>
<rect x="49.21" y="427.0" width="1.2" height="14.4" fill="#2a8a2a"/>
<rect x="53.15" y="428.0" width="1.2" height="13.4" fill="#2a8a2a"/>
<rect x="57.09" y="431.0" width="1.2" height="10.4" fill="#2a8a2a"/>
<rect x="61.02" y="437.0" width="1.2" height="4.4" fill="#2a8a2a"/>
<rect x="64.96" y="441.4" width="1.2" height="1.1" fill="#2a8a2a"/>
<rect x="68.90" y="441.4" width="1.2" height="6.6" fill="#2a8a2a"/>
<rect x="72.84" y="441.4" width="1.2" height="9.0" fill="#2a8a2a"/>
<rect x="76.77" y="441.4" width="1.2" height="9.6" fill="#2a8a2a"/>
<rect x="80.71" y="441.4" width="1.2" height="9.6" fill="#2a8a2a"/>
<rect x="84.65" y="441.4" width="1.2" height="10.2" fill="#2a8a2a"/>
<rect x="88.59" y="441.4" width="1.2" height="9.6" fill="#2a8a2a"/>
<rect x="92.52" y="441.4" width="1.2" height="8.6" fill="#2a8a2a"/>
<rect x="96.46" y="441.4" width="1.2" height="7.6" fill="#2a8a2a"/>
<rect x="100.40" y="441.4" width="1.2" height="7.6" fill="#2a8a2a"/>
<rect x="104.34" y="441.4" width="1.2" height="8.6" fill="#2a8a2a"/>
<rect x="108.27" y="441.4" width="1.2" height="9.2" fill="#2a8a2a"/>
<rect x="112.21" y="441.4" width="1.2" height="10.2" fill="#2a8a2a"/>
<rect x="116.15" y="441.4" width="1.2" height="11.0" fill="#2a8a2a"/>
<rect x="120.09" y="441.4" width="1.2" height="11.0" fill="#2a8a2a"/>
<rect x="124.02" y="441.4" width="1.2" height="11.6" fill="#2a8a2a"/>
<rect x="127.96" y="441.4" width="1.2" height="11.6" fill="#2a8a2a"/>
<rect x="131.90" y="441.4" width="1.2" height="8.1" fill="#2a8a2a"/>
<rect x="135.84" y="441.4" width="1.2" height="6.6" fill="#2a8a2a"/>
<rect x="139.77" y="441.4" width="1.2" height="5.2" fill="#2a8a2a"/>
<rect x="143.71" y="441.4" width="1.2" height="3.6" fill="#2a8a2a"/>
<rect x="147.65" y="441.4" width="1.2" height="2.2" fill="#2a8a2a"/>
<rect x="155.52" y="440.6" width="1.2" height="0.8" fill="#2a8a2a"/>
<rect x="171.27" y="441.4" width="1.2" height="1.2" fill="#2a8a2a"/>
<rect x="175.21" y="441.4" width="1.2" height="2.0" fill="#2a8a2a"/>
<rect x="179.15" y="441.4" width="1.2" height="3.6" fill="#2a8a2a"/>
<rect x="183.09" y="441.4" width="1.2" height="4.2" fill="#2a8a2a"/>
<rect x="187.02" y="441.4" width="1.2" height="1.6" fill="#2a8a2a"/>
<rect x="190.96" y="441.4" width="1.2" height="1.0" fill="#2a8a2a"/>
<rect x="194.90" y="440.6" width="1.2" height="0.8" fill="#2a8a2a"/>
<rect x="198.84" y="440.6" width="1.2" height="0.8" fill="#2a8a2a"/>
<rect x="202.77" y="440.6" width="1.2" height="0.8" fill="#2a8a2a"/>
<rect x="206.71" y="440.6" width="1.2" height="0.8" fill="#2a8a2a"/>
<rect x="214.59" y="441.4" width="1.2" height="1.0" fill="#2a8a2a"/>
<rect x="218.52" y="441.4" width="1.2" height="2.6" fill="#2a8a2a"/>
<rect x="222.46" y="441.4" width="1.2" height="1.6" fill="#2a8a2a"/>
<rect x="226.40" y="440.6" width="1.2" height="0.8" fill="#2a8a2a"/>
<rect x="230.34" y="440.6" width="1.2" height="0.8" fill="#2a8a2a"/>
<rect x="234.27" y="440.6" width="1.2" height="0.8" fill="#2a8a2a"/>
<rect x="246.09" y="441.4" width="1.2" height="1.0" fill="#2a8a2a"/>
<rect x="250.02" y="441.4" width="1.2" height="1.4" fill="#2a8a2a"/>
<rect x="253.96" y="441.4" width="1.2" height="1.6" fill="#2a8a2a"/>
<rect x="257.90" y="441.4" width="1.2" height="1.2" fill="#2a8a2a"/>
<rect x="261.83" y="441.4" width="1.2" height="1.2" fill="#2a8a2a"/>
<rect x="265.77" y="441.4" width="1.2" height="2.0" fill="#2a8a2a"/>
<rect x="269.71" y="441.4" width="1.2" height="4.2" fill="#2a8a2a"/>
<rect x="273.65" y="441.4" width="1.2" height="5.2" fill="#2a8a2a"/>
<rect x="277.58" y="441.4" width="1.2" height="6.0" fill="#2a8a2a"/>
<rect x="281.52" y="441.4" width="1.2" height="6.6" fill="#2a8a2a"/>
<rect x="285.46" y="441.4" width="1.2" height="7.0" fill="#2a8a2a"/>
<rect x="289.40" y="441.4" width="1.2" height="8.2" fill="#2a8a2a"/>
<rect x="293.33" y="441.4" width="1.2" height="9.0" fill="#2a8a2a"/>
<rect x="297.27" y="441.4" width="1.2" height="9.6" fill="#2a8a2a"/>
<rect x="301.21" y="441.4" width="1.2" height="9.6" fill="#2a8a2a"/>
<rect x="305.15" y="441.4" width="1.2" height="9.6" fill="#2a8a2a"/>
<rect x="309.08" y="441.4" width="1.2" height="9.0" fill="#2a8a2a"/>
<rect x="313.02" y="441.4" width="1.2" height="8.6" fill="#2a8a2a"/>
<rect x="316.96" y="441.4" width="1.2" height="7.6" fill="#2a8a2a"/>
<rect x="320.90" y="441.4" width="1.2" height="5.6" fill="#2a8a2a"/>
<rect x="324.83" y="441.4" width="1.2" height="1.0" fill="#2a8a2a"/>
<rect x="328.77" y="440.8" width="1.2" height="0.8" fill="#2a8a2a"/>
<rect x="332.71" y="439.0" width="1.2" height="2.4" fill="#2a8a2a"/>
<rect x="336.65" y="438.4" width="1.2" height="3.0" fill="#2a8a2a"/>
<rect x="340.58" y="438.4" width="1.2" height="3.0" fill="#2a8a2a"/>
<rect x="344.52" y="438.0" width="1.2" height="3.4" fill="#2a8a2a"/>
<rect x="348.46" y="437.0" width="1.2" height="4.4" fill="#2a8a2a"/>
<rect x="352.40" y="436.0" width="1.2" height="5.4" fill="#2a8a2a"/>
<rect x="356.33" y="436.0" width="1.2" height="5.4" fill="#2a8a2a"/>
<rect x="360.27" y="437.6" width="1.2" height="3.8" fill="#2a8a2a"/>
<rect x="364.21" y="438.0" width="1.2" height="3.4" fill="#2a8a2a"/>
<rect x="368.15" y="437.0" width="1.2" height="4.4" fill="#2a8a2a"/>
<rect x="372.08" y="436.6" width="1.2" height="4.8" fill="#2a8a2a"/>
<rect x="376.02" y="436.0" width="1.2" height="5.4" fill="#2a8a2a"/>
<rect x="379.96" y="436.0" width="1.2" height="5.4" fill="#2a8a2a"/>
<rect x="383.90" y="436.0" width="1.2" height="5.4" fill="#2a8a2a"/>
<rect x="387.83" y="437.6" width="1.2" height="3.8" fill="#2a8a2a"/>
<rect x="391.77" y="439.0" width="1.2" height="2.4" fill="#2a8a2a"/>
<rect x="395.71" y="440.0" width="1.2" height="1.4" fill="#2a8a2a"/>
<rect x="399.65" y="440.4" width="1.2" height="1.0" fill="#2a8a2a"/>
<rect x="403.58" y="440.7" width="1.2" height="0.8" fill="#2a8a2a"/>
<rect x="411.46" y="440.7" width="1.2" height="0.8" fill="#2a8a2a"/>
<rect x="423.27" y="440.7" width="1.2" height="0.8" fill="#2a8a2a"/>
<rect x="427.21" y="440.7" width="1.2" height="0.8" fill="#2a8a2a"/>
<rect x="431.15" y="440.7" width="1.2" height="0.8" fill="#2a8a2a"/>
<rect x="435.08" y="440.7" width="1.2" height="0.8" fill="#2a8a2a"/>
<rect x="458.71" y="441.4" width="1.2" height="1.6" fill="#2a8a2a"/>
<rect x="462.65" y="441.4" width="1.2" height="2.6" fill="#2a8a2a"/>
<rect x="466.58" y="441.4" width="1.2" height="3.0" fill="#2a8a2a"/>
<rect x="470.52" y="441.4" width="1.2" height="3.6" fill="#2a8a2a"/>
<rect x="474.46" y="441.4" width="1.2" height="3.6" fill="#2a8a2a"/>
<rect x="478.40" y="441.4" width="1.2" height="3.6" fill="#2a8a2a"/>
<rect x="482.33" y="441.4" width="1.2" height="3.6" fill="#2a8a2a"/>
<rect x="486.27" y="441.4" width="1.2" height="3.6" fill="#2a8a2a"/>
<rect x="490.21" y="441.4" width="1.2" height="2.2" fill="#2a8a2a"/>
<rect x="494.15" y="441.4" width="1.2" height="1.2" fill="#2a8a2a"/>
<rect x="498.08" y="441.4" width="1.2" height="0.8" fill="#2a8a2a"/>
<rect x="502.02" y="440.7" width="1.2" height="0.8" fill="#2a8a2a"/>
<rect x="505.96" y="441.4" width="1.2" height="0.8" fill="#2a8a2a"/>
<rect x="509.90" y="441.4" width="1.2" height="1.2" fill="#2a8a2a"/>
<rect x="513.83" y="441.4" width="1.2" height="2.0" fill="#2a8a2a"/>
<polyline points="2.0,432.0 12.0,425.0 22.0,419.0 32.0,413.0 40.0,404.0 48.0,396.0 56.0,390.0 62.0,387.6 67.0,388.0 76.0,394.0 86.0,401.0 96.0,406.0 106.0,411.0 116.0,418.0 126.0,426.0 130.0,429.0 138.0,432.0 146.0,435.0 154.0,435.0 162.0,434.4 170.0,434.4 178.0,436.4 186.0,439.0 194.0,439.0 202.0,439.0 210.0,440.0 218.0,442.0 226.0,441.6 238.0,440.6 246.0,441.4 254.0,443.0 262.0,444.0 268.0,444.4 276.0,447.0 286.0,450.0 296.0,455.0 306.0,461.0 316.0,467.0 324.0,470.0 332.0,469.6 340.0,467.0 350.0,463.0 360.0,460.0 370.0,457.0 380.0,453.0 390.0,449.0 398.0,448.0 410.0,447.6 422.0,447.6 434.0,446.4 446.0,445.6 456.0,445.0 464.0,446.0 474.0,448.4 484.0,450.0 494.0,451.6 504.0,452.4 514.0,453.6" fill="none" stroke="#e8202a" stroke-width="1.2" stroke-dasharray="3.2,2.6" stroke-linejoin="round"/>
<polyline points="2.0,428.0 10.0,420.0 18.0,411.0 26.0,410.0 31.0,406.0 37.0,394.0 42.0,385.0 49.0,381.0 55.0,378.0 60.0,380.0 64.0,386.0 70.0,397.0 76.0,403.0 84.0,409.0 90.0,412.0 98.0,414.0 104.0,419.0 112.0,427.0 120.0,433.0 128.0,440.0 132.0,438.0 138.0,438.6 144.0,439.0 150.0,436.0 156.0,433.0 162.0,434.4 168.0,434.4 174.0,437.0 180.0,441.0 184.0,443.0 190.0,440.0 198.0,439.0 204.0,438.0 210.0,440.0 216.0,444.0 222.0,443.0 228.0,441.0 238.0,440.0 246.0,442.0 254.0,446.0 262.0,445.0 267.0,445.6 274.0,451.6 280.0,453.6 288.0,457.0 295.0,464.0 304.0,469.0 312.0,474.4 318.0,475.6 322.0,474.0 328.0,468.0 335.0,464.0 344.0,461.0 350.0,458.0 357.0,454.6 363.0,454.0 370.0,451.0 378.0,447.0 383.0,445.0 389.0,445.0 394.0,446.4 398.0,447.0 406.0,448.0 414.0,446.0 422.0,447.0 430.0,445.0 437.0,444.0 444.0,445.6 452.0,444.0 458.0,445.6 466.0,449.0 474.0,451.6 482.0,453.0 488.0,454.6 494.0,453.6 500.0,452.4 506.0,453.0 512.0,454.0 515.0,456.0" fill="none" stroke="#1c1cf0" stroke-width="1.15" stroke-linejoin="round"/>
<g fill="#111">
<rect x="1" y="38" width="656" height="1"/>
<rect x="1" y="38" width="1" height="442.9"/>
<rect x="656" y="38" width="1" height="332.9"/>
<rect x="656" y="372" width="1" height="108.9"/>
<rect x="1" y="369.8" width="656" height="1.1"/>
<rect x="1" y="372" width="656" height="1"/>
<rect x="1" y="479.7" width="658" height="1.2"/>
</g>
<polygon points="518.4,39 527.5,39 522.9,43.8" fill="#7089a6"/>
<polygon points="5,45 12,45 8.5,49" fill="#000"/>
<rect x="657" y="40.9" width="2.5" height="1" fill="#111"/>
<text class="k" x="662" y="44.7" font-size="9.4" fill="#111" lengthAdjust="spacingAndGlyphs" textLength="32">1.49090</text>
<rect x="657" y="73.5" width="2.5" height="1" fill="#111"/>
<text class="k" x="662" y="77.3" font-size="9.4" fill="#111" lengthAdjust="spacingAndGlyphs" textLength="32">1.47220</text>
<rect x="657" y="105.9" width="2.5" height="1" fill="#111"/>
<text class="k" x="662" y="109.7" font-size="9.4" fill="#111" lengthAdjust="spacingAndGlyphs" textLength="32">1.45350</text>
<rect x="657" y="138.5" width="2.5" height="1" fill="#111"/>
<text class="k" x="662" y="142.3" font-size="9.4" fill="#111" lengthAdjust="spacingAndGlyphs" textLength="32">1.43480</text>
<rect x="657" y="171.1" width="2.5" height="1" fill="#111"/>
<text class="k" x="662" y="174.9" font-size="9.4" fill="#111" lengthAdjust="spacingAndGlyphs" textLength="32">1.41555</text>
<rect x="657" y="203.7" width="2.5" height="1" fill="#111"/>
<text class="k" x="662" y="207.5" font-size="9.4" fill="#111" lengthAdjust="spacingAndGlyphs" textLength="32">1.39685</text>
<rect x="657" y="236.5" width="2.5" height="1" fill="#111"/>
<text class="k" x="662" y="240.3" font-size="9.4" fill="#111" lengthAdjust="spacingAndGlyphs" textLength="32">1.37815</text>
<rect x="657" y="268.9" width="2.5" height="1" fill="#111"/>
<text class="k" x="662" y="272.7" font-size="9.4" fill="#111" lengthAdjust="spacingAndGlyphs" textLength="32">1.35945</text>
<rect x="657" y="301.5" width="2.5" height="1" fill="#111"/>
<text class="k" x="662" y="305.3" font-size="9.4" fill="#111" lengthAdjust="spacingAndGlyphs" textLength="32">1.34075</text>
<rect x="657" y="440.9" width="2.5" height="1" fill="#111"/>
<text class="k" x="660" y="382.7" font-size="9.4" fill="#111" lengthAdjust="spacingAndGlyphs" textLength="37.4">0.032043</text>
<text class="k" x="660" y="444.7" font-size="9.4" fill="#111" lengthAdjust="spacingAndGlyphs" textLength="17.5">0.00</text>
<text class="k" x="660" y="477.7" font-size="9.4" fill="#111" lengthAdjust="spacingAndGlyphs" textLength="40.5">-0.018188</text>
<text x="662" y="373.5" font-size="9.4" fill="#111" lengthAdjust="spacingAndGlyphs" textLength="32">1.30335</text>
<rect x="658" y="370.8" width="42" height="4" fill="#fff"/>
<rect x="658" y="189.0" width="40.3" height="11" fill="#dc143c"/>
<text x="662" y="197.8" font-size="9.4" fill="#fff" lengthAdjust="spacingAndGlyphs" textLength="32">1.40223</text>
<rect x="658" y="216.4" width="40.3" height="11" fill="#dc143c"/>
<text x="662" y="225.2" font-size="9.4" fill="#fff" lengthAdjust="spacingAndGlyphs" textLength="32">1.38660</text>
<rect x="658" y="249.4" width="40.3" height="11" fill="#dc143c"/>
<text x="662" y="258.2" font-size="9.4" fill="#fff" lengthAdjust="spacingAndGlyphs" textLength="32">1.36732</text>
<rect x="658" y="278.8" width="40.3" height="11" fill="#dc143c"/>
<text x="662" y="287.6" font-size="9.4" fill="#fff" lengthAdjust="spacingAndGlyphs" textLength="32">1.35034</text>
<rect x="658" y="307.4" width="40.3" height="11" fill="#dc143c"/>
<text x="662" y="316.2" font-size="9.4" fill="#fff" lengthAdjust="spacingAndGlyphs" textLength="32">1.33365</text>
<rect x="658" y="319.1" width="40.3" height="11" fill="#000"/>
<text x="662" y="327.9" font-size="9.4" fill="#fff" lengthAdjust="spacingAndGlyphs" textLength="32">1.32752</text>
<rect x="658" y="330.4" width="40.3" height="11" fill="#dc143c"/>
<text x="662" y="339.2" font-size="9.4" fill="#fff" lengthAdjust="spacingAndGlyphs" textLength="32">1.32088</text>
<rect x="658" y="359.0" width="40.3" height="11" fill="#dc143c"/>
<text x="662" y="367.8" font-size="9.4" fill="#fff" lengthAdjust="spacingAndGlyphs" textLength="32">1.30455</text>
<text class="k" x="17.2" y="49.4" font-size="9.5" fill="#111" lengthAdjust="spacingAndGlyphs" textLength="64.4">USDCAD,Daily</text>
<text class="k" x="88.4" y="49.4" font-size="9.5" fill="#111" lengthAdjust="spacingAndGlyphs" textLength="137.9">1.32650 1.32776 1.32530 1.32752</text>
<rect x="2.0" y="480" width="1" height="3.5" fill="#111"/>
<text class="k" x="1.3" y="493" font-size="9.2" fill="#111">8 Mar 2020</text>
<rect x="65.1" y="480" width="1" height="3.5" fill="#111"/>
<text class="k" x="64.4" y="493" font-size="9.2" fill="#111">26 Mar 2020</text>
<rect x="128.1" y="480" width="1" height="3.5" fill="#111"/>
<text class="k" x="127.4" y="493" font-size="9.2" fill="#111">14 Apr 2020</text>
<rect x="191.0" y="480" width="1" height="3.5" fill="#111"/>
<text class="k" x="190.3" y="493" font-size="9.2" fill="#111">3 May 2020</text>
<rect x="254.1" y="480" width="1" height="3.5" fill="#111"/>
<text class="k" x="253.4" y="493" font-size="9.2" fill="#111">21 May 2020</text>
<rect x="316.9" y="480" width="1" height="3.5" fill="#111"/>
<text class="k" x="316.2" y="493" font-size="9.2" fill="#111">9 Jun 2020</text>
<rect x="380.2" y="480" width="1" height="3.5" fill="#111"/>
<text class="k" x="379.5" y="493" font-size="9.2" fill="#111">28 Jun 2020</text>
<rect x="443.3" y="480" width="1" height="3.5" fill="#111"/>
<text class="k" x="442.6" y="493" font-size="9.2" fill="#111">16 Jul 2020</text>
<rect x="506.3" y="480" width="1" height="3.5" fill="#111"/>
<text class="k" x="505.6" y="493" font-size="9.2" fill="#111">4 Aug 2020</text>
</svg></body></html>
